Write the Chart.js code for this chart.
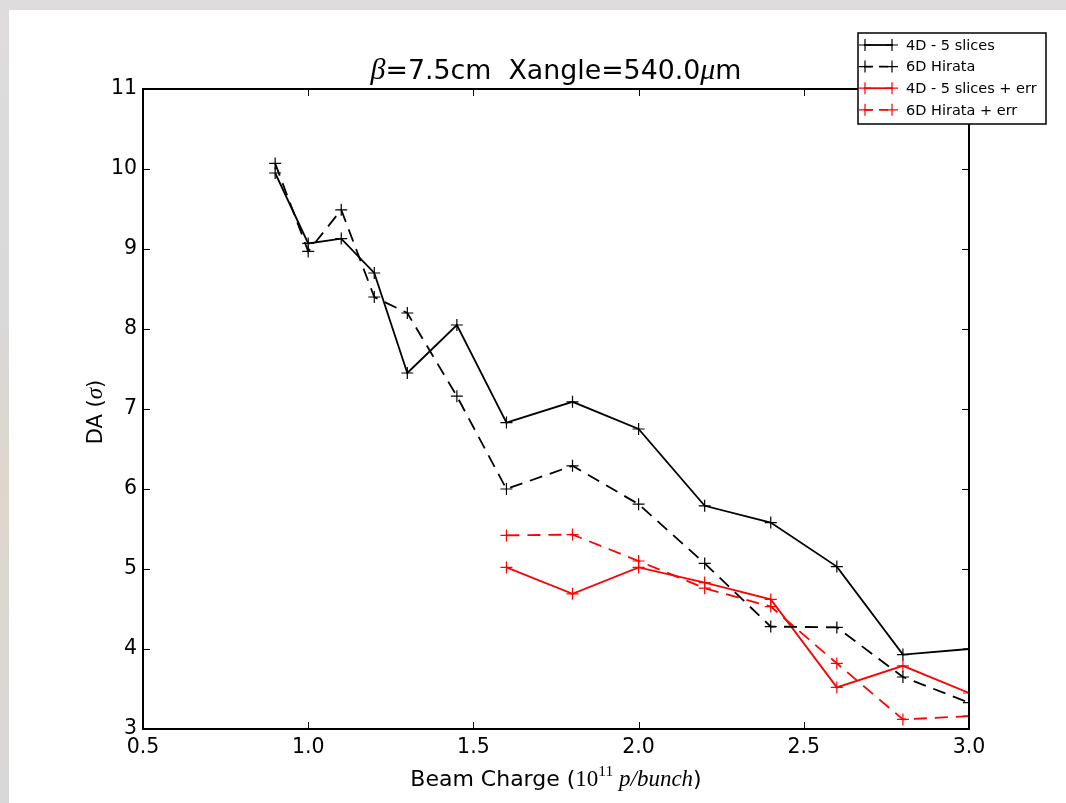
<!DOCTYPE html>
<html>
<head>
<meta charset="utf-8">
<script src="https://cdn.jsdelivr.net/npm/chart.js@4.4.1/dist/chart.umd.min.js"></script>
<style>
  html, body { margin: 0; padding: 0; }
  body {
    width: 1066px; height: 803px; overflow: hidden; position: relative;
    background: linear-gradient(180deg, #dedcdc 0%, #d9d9d9 40%, #ddd6cc 60%, #d8d8d8 100%);
  }
  #wrap { position: absolute; left: 9px; top: 10px; width: 1057px; height: 793px; background: #fff; }
</style>
</head>
<body>
<div id="wrap"><canvas id="da" width="1057" height="793"></canvas></div>
<script>
// beam charge in 1e11 p/bunch
const charge = [0.9, 1.0, 1.1, 1.2, 1.3, 1.45, 1.6, 1.8, 2.0, 2.2, 2.4, 2.6, 2.8, 3.0];
const da4d = [9.95, 9.07, 9.13, 8.70, 7.45, 8.05, 6.83, 7.09, 6.75, 5.79, 5.58, 5.03, 3.93, 4.00];
const da6d = [10.07, 8.97, 9.49, 8.40, 8.20, 7.16, 6.00, 6.29, 5.81, 5.07, 4.28, 4.27, 3.65, 3.33];

const chargeErr = [1.6, 1.8, 2.0, 2.2, 2.4, 2.6, 2.8, 3.0];
const da4dErr = [5.02, 4.69, 5.02, 4.83, 4.62, 3.52, 3.79, 3.45];
const da6dErr = [5.42, 5.43, 5.10, 4.76, 4.53, 3.82, 3.12, 3.16];

const xTicks = [0.5, 1.0, 1.5, 2.0, 2.5, 3.0];
const yTicks = [3, 4, 5, 6, 7, 8, 9, 10, 11];

const DASH = [13, 8];
const series = [
  { label: "4D - 5 slices", xs: charge, ys: da4d, color: "#000000", dash: [] },
  { label: "6D Hirata", xs: charge, ys: da6d, color: "#000000", dash: DASH },
  { label: "4D - 5 slices + err", xs: chargeErr, ys: da4dErr, color: "#ff0000", dash: [] },
  { label: "6D Hirata + err", xs: chargeErr, ys: da6dErr, color: "#ff0000", dash: DASH },
];

const SANS = '"DejaVu Sans", sans-serif';
const MATH = '"Liberation Serif", "DejaVu Serif", serif';

function drawRuns(ctx, runs, cx, y) {
  let w = 0;
  runs.forEach(r => { ctx.font = r.font; w += ctx.measureText(r.t).width; });
  let x = cx - w / 2;
  runs.forEach(r => {
    ctx.font = r.font;
    ctx.fillText(r.t, x, y + (r.dy || 0));
    x += ctx.measureText(r.t).width;
  });
}

function cross(ctx, x, y, r, color) {
  ctx.save();
  ctx.strokeStyle = color;
  ctx.lineWidth = 1.2;
  ctx.setLineDash([]);
  ctx.beginPath();
  ctx.moveTo(x - r, y); ctx.lineTo(x + r, y);
  ctx.moveTo(x, y - r); ctx.lineTo(x, y + r);
  ctx.stroke();
  ctx.restore();
}

// frame, inward ticks, labels and legend in the old matplotlib look
const mplAxes = {
  id: "mplAxes",
  afterDraw(chart) {
    const ctx = chart.ctx;
    const a = chart.chartArea;
    const sx = chart.scales.x, sy = chart.scales.y;
    ctx.save();
    ctx.fillStyle = "#000";
    ctx.strokeStyle = "#000";

    // ticks on all four sides, pointing in
    ctx.lineWidth = 1;
    ctx.beginPath();
    xTicks.forEach(v => {
      const px = Math.round(sx.getPixelForValue(v)) + 0.5;
      ctx.moveTo(px, a.bottom); ctx.lineTo(px, a.bottom - 7);
      ctx.moveTo(px, a.top); ctx.lineTo(px, a.top + 7);
    });
    yTicks.forEach(v => {
      const py = Math.round(sy.getPixelForValue(v)) + 0.5;
      ctx.moveTo(a.left, py); ctx.lineTo(a.left + 7, py);
      ctx.moveTo(a.right, py); ctx.lineTo(a.right - 7, py);
    });
    ctx.stroke();

    ctx.lineWidth = 2;
    ctx.strokeRect(a.left, a.top, a.right - a.left, a.bottom - a.top);

    // tick labels
    ctx.font = "20.5px " + SANS;
    ctx.textAlign = "center";
    ctx.textBaseline = "top";
    xTicks.forEach(v => ctx.fillText(v.toFixed(1), sx.getPixelForValue(v), a.bottom + 8));
    ctx.textAlign = "right";
    ctx.textBaseline = "middle";
    yTicks.forEach(v => ctx.fillText(String(v), a.left - 6, sy.getPixelForValue(v)));

    // title and axis labels
    ctx.textAlign = "left";
    ctx.textBaseline = "alphabetic";
    const cx = (a.left + a.right) / 2;
    drawRuns(ctx, [
      { t: "\u03b2", font: "italic 30px " + MATH },
      { t: "=7.5cm  Xangle=540.0", font: "26.8px " + SANS },
      { t: "\u03bc", font: "italic 30px " + MATH },
      { t: "m", font: "26.8px " + SANS },
    ], cx, 69);

    drawRuns(ctx, [
      { t: "Beam Charge (", font: "22px " + SANS },
      { t: "10", font: "23px " + MATH },
      { t: "11", font: "15.5px " + MATH, dy: -10 },
      { t: " p/bunch", font: "italic 23px " + MATH },
      { t: ")", font: "22px " + SANS },
    ], cx, 776);

    ctx.save();
    ctx.translate(86, (a.top + a.bottom) / 2 + 3);
    ctx.rotate(-Math.PI / 2);
    drawRuns(ctx, [
      { t: "DA (", font: "21px " + SANS },
      { t: "\u03c3", font: "italic 23px " + MATH },
      { t: ")", font: "21px " + SANS },
    ], 0, 7);
    ctx.restore();

    // legend box over the top-right corner
    const L = { left: 849, top: 23, right: 1037, bottom: 114 };
    ctx.fillStyle = "#fff";
    ctx.fillRect(L.left, L.top, L.right - L.left, L.bottom - L.top);
    ctx.lineWidth = 1.5;
    ctx.strokeStyle = "#000";
    ctx.strokeRect(L.left, L.top, L.right - L.left, L.bottom - L.top);
    ctx.font = "14.5px " + SANS;
    ctx.textBaseline = "middle";
    series.forEach((s, i) => {
      const y = 35 + i * 21.6;
      ctx.strokeStyle = s.color;
      ctx.lineWidth = 1.8;
      ctx.setLineDash(s.dash.length ? [9, 6] : []);
      ctx.beginPath();
      ctx.moveTo(855, y); ctx.lineTo(884, y);
      ctx.stroke();
      ctx.setLineDash([]);
      cross(ctx, 856, y, 6, s.color);
      cross(ctx, 883, y, 6, s.color);
      ctx.fillStyle = "#000";
      ctx.fillText(s.label, 897, y + 1);
    });
    ctx.restore();
  }
};

new Chart(document.getElementById("da"), {
  type: "line",
  data: {
    datasets: series.map(s => ({
      label: s.label,
      data: s.xs.map((x, i) => ({ x, y: s.ys[i] })),
      borderColor: s.color,
      borderWidth: 1.8,
      borderDash: s.dash,
      pointStyle: "cross",
      pointRadius: 6,
      pointBorderWidth: 1.2,
      pointBorderColor: s.color,
      pointBackgroundColor: s.color,
      tension: 0,
      fill: false,
      clip: 0,
    })),
  },
  options: {
    responsive: false,
    animation: false,
    devicePixelRatio: 1,
    layout: { padding: { left: 134, right: 97, top: 79, bottom: 74 } },
    plugins: {
      legend: { display: false },
      title: { display: false },
      tooltip: { enabled: false },
    },
    scales: {
      x: { type: "linear", min: 0.5, max: 3.0, display: false },
      y: { type: "linear", min: 3, max: 11, display: false },
    },
  },
  plugins: [mplAxes],
});
</script>
</body>
</html>
